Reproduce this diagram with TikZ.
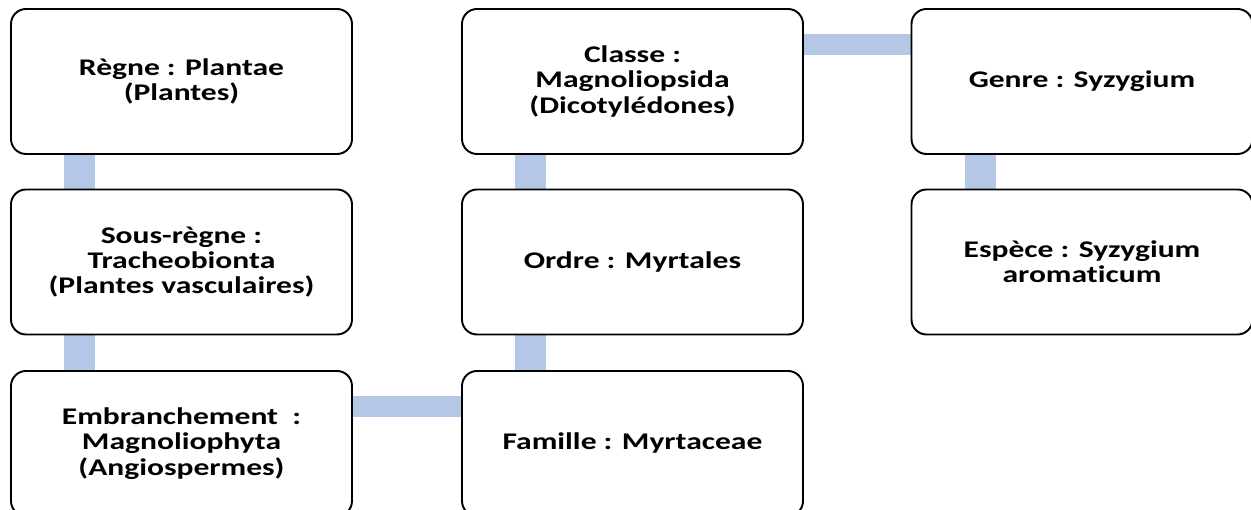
\documentclass[tikz,border=0pt]{standalone}
\usepackage{fontspec}
\setmainfont{Carlito}[FakeStretch=1.32,Ligatures=NoCommon]
\usepackage{xcolor}
\usetikzlibrary{backgrounds}
\definecolor{barblue}{RGB}{180,199,231}

\tikzset{
  taxon/.style={draw=black,line width=1.1pt,rounded corners=0.3cm,fill=white,
    minimum width=6.82cm,minimum height=2.9cm,inner sep=0pt,align=center,
    font=\fontsize{13.6}{14.4}\selectfont\bfseries},
  vbar/.style={draw=barblue,line width=0.62cm},
  hbar/.style={draw=barblue,line width=0.42cm}
}

\begin{document}
\begin{tikzpicture}
      \useasboundingbox (0,0) rectangle (25.02,10.2);
      \clip (0,0) rectangle (25.02,10.2);
      % first column
      \node[taxon] (regne) at (3.63,8.57) {Règne : Plantae\\(Plantes)};
      \node[taxon] (sousregne) at (3.63,4.96) {Sous-règne :\\Tracheobionta\\(Plantes vasculaires)};
      \node[taxon] (embr) at (3.63,1.33) {Embranchement~~:\\Magnoliophyta\\(Angiospermes)};
      % second column
      \node[taxon] (classe) at (12.65,8.57) {Classe :\\Magnoliopsida\\(Dicotylédones)};
      \node[taxon] (ordre) at (12.65,4.96) {Ordre : Myrtales};
      \node[taxon] (famille) at (12.65,1.33) {Famille : Myrtaceae};
      % third column
      \node[taxon] (genre) at (21.64,8.57) {Genre : Syzygium};
      \node[taxon] (espece) at (21.64,4.96) {Espèce : Syzygium\\aromaticum};
      \begin{pgfonlayer}{background}
        \draw[vbar] ([xshift=1.39cm]regne.south west) -- ([xshift=1.39cm]sousregne.north west);
        \draw[vbar] ([xshift=1.39cm]sousregne.south west) -- ([xshift=1.39cm]embr.north west);
        \draw[hbar] ([yshift=-0.72cm]embr.north east) -- ([yshift=-0.72cm]famille.north west);
        \draw[vbar] ([xshift=1.39cm]famille.north west) -- ([xshift=1.39cm]ordre.south west);
        \draw[vbar] ([xshift=1.39cm]ordre.north west) -- ([xshift=1.39cm]classe.south west);
        \draw[hbar] ([yshift=-0.72cm]classe.north east) -- ([yshift=-0.72cm]genre.north west);
        \draw[vbar] ([xshift=1.39cm]genre.south west) -- ([xshift=1.39cm]espece.north west);
      \end{pgfonlayer}
\end{tikzpicture}
\end{document}
